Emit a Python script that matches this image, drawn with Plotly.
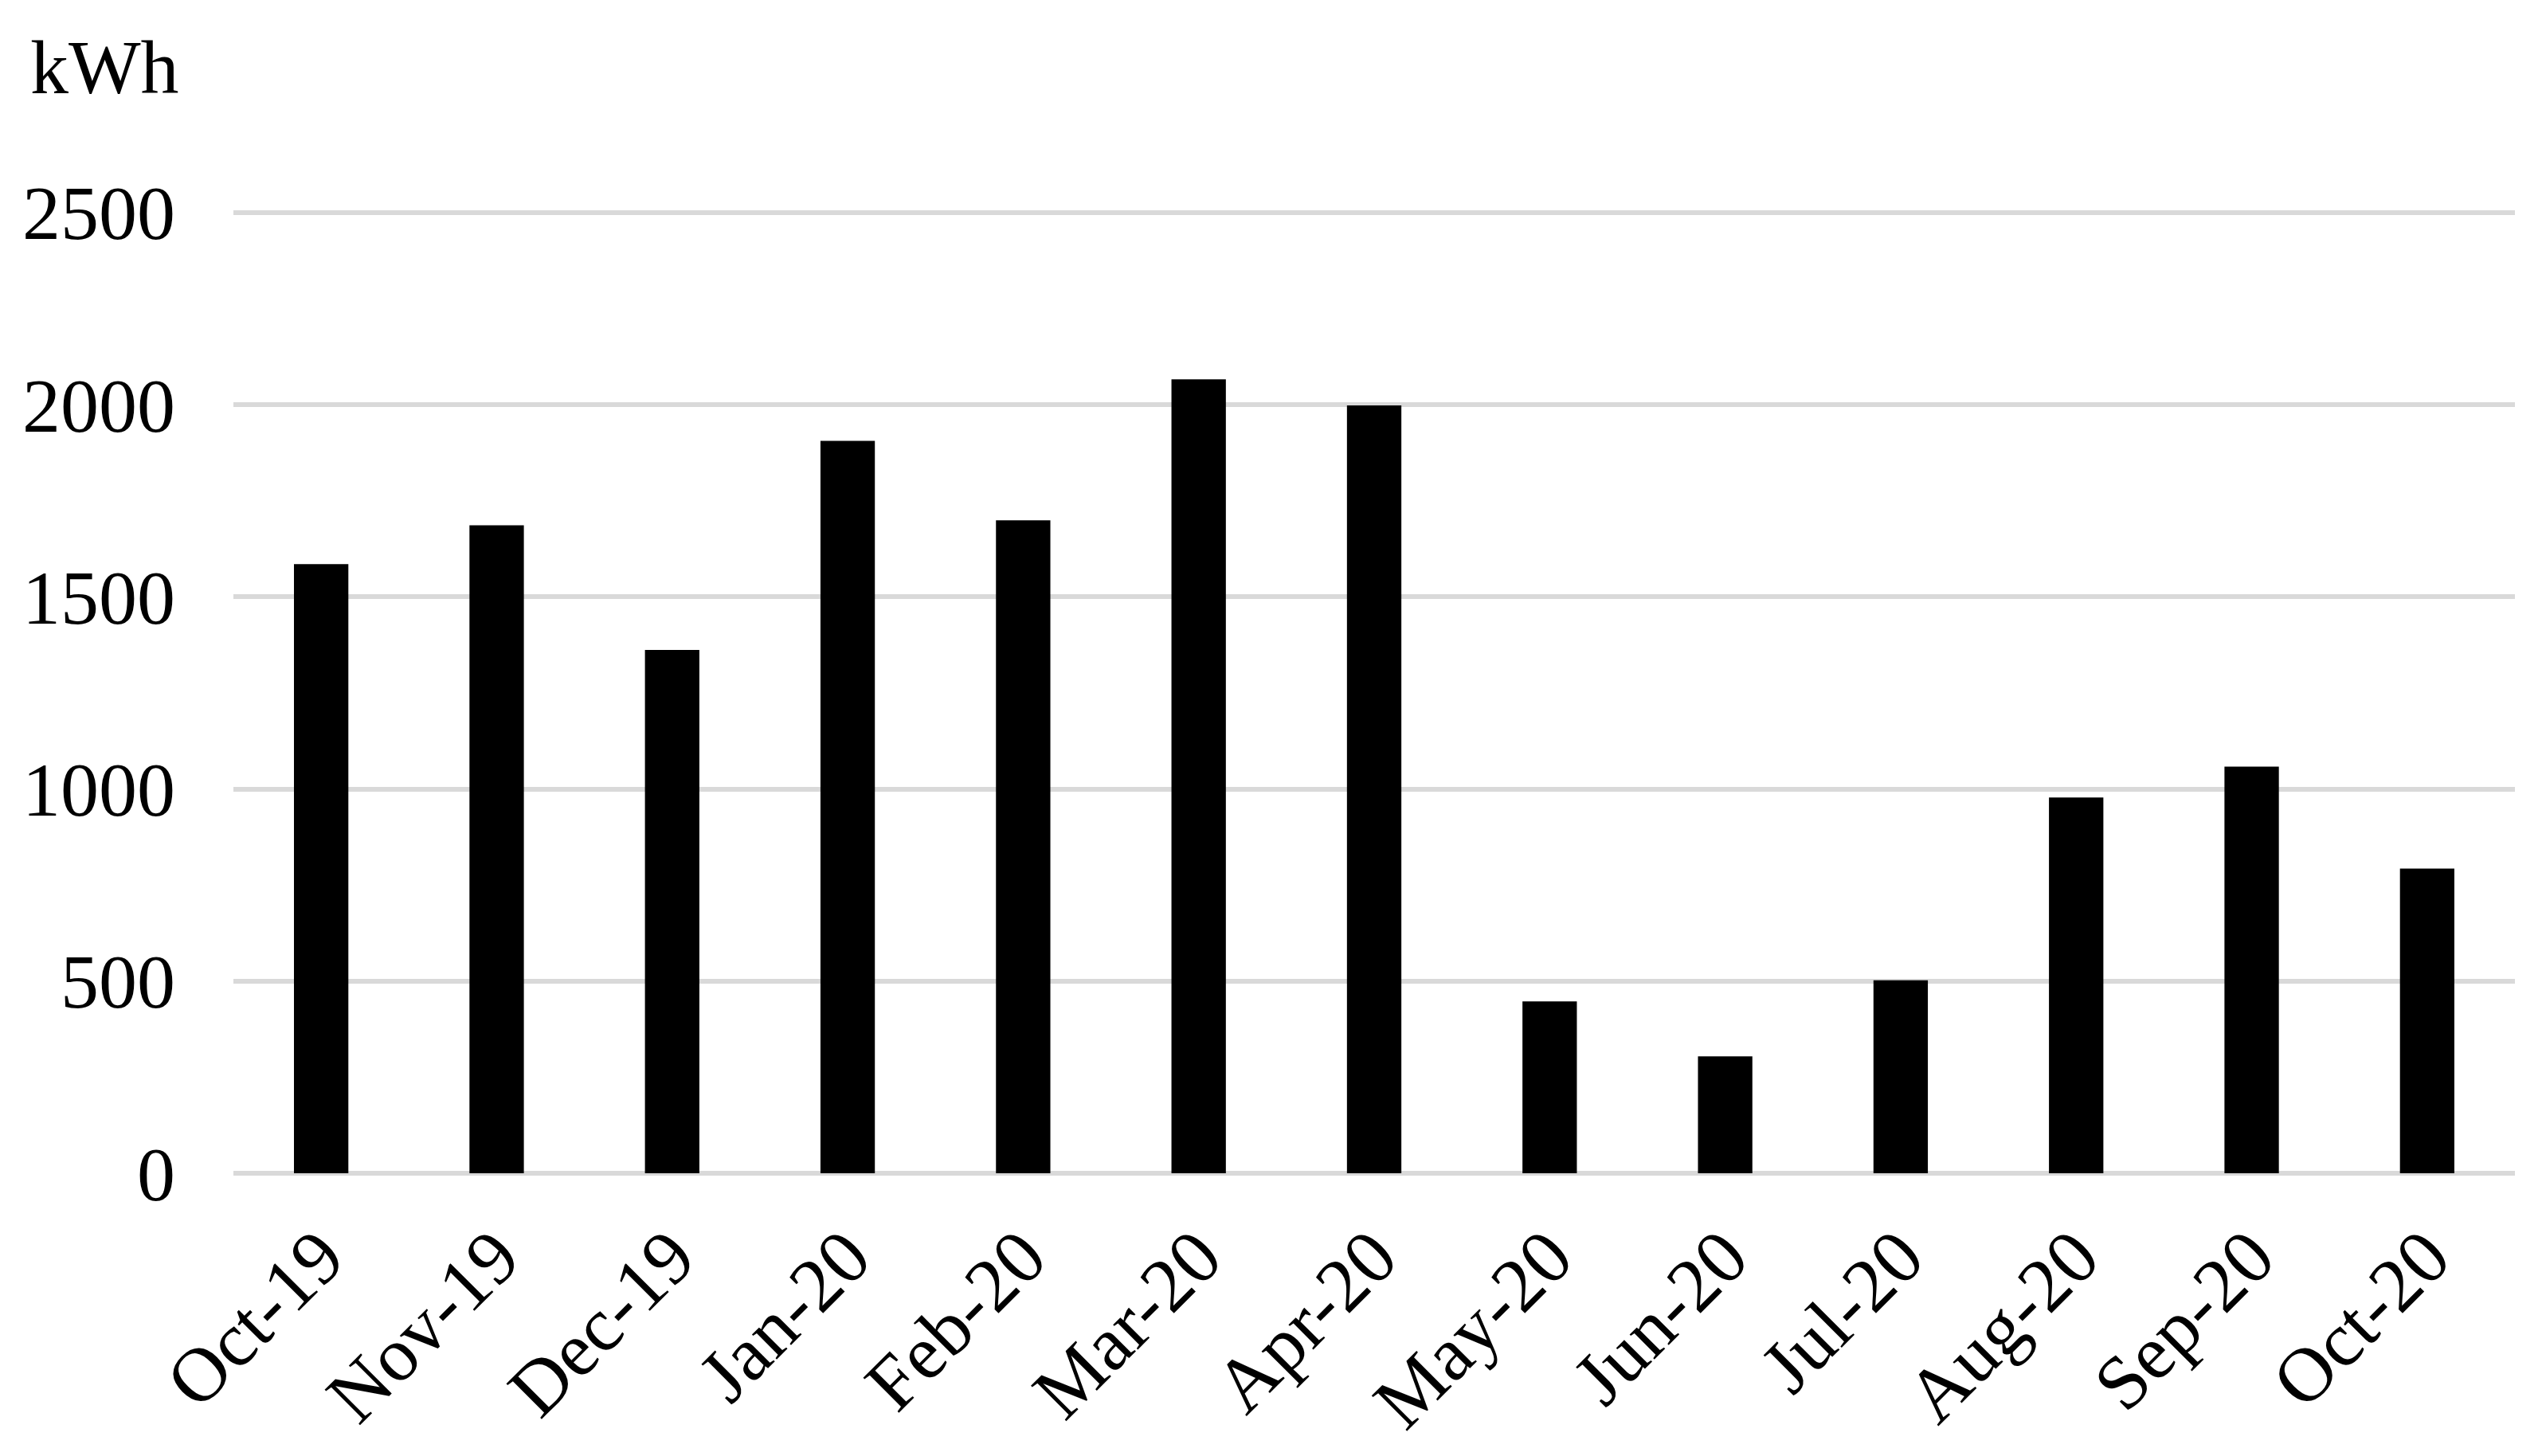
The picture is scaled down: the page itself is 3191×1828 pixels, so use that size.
import plotly.graph_objects as go

months = ["Oct-19", "Nov-19", "Dec-19", "Jan-20", "Feb-20", "Mar-20", "Apr-20",
          "May-20", "Jun-20", "Jul-20", "Aug-20", "Sep-20", "Oct-20"]
energy_kwh = [1585, 1686, 1362, 1906, 1699, 2066, 1998, 447, 304, 502, 978, 1058, 793]
y_ticks = [0, 500, 1000, 1500, 2000, 2500]

font_family = "Liberation Serif, Times New Roman, serif"
fsize = 96

fig = go.Figure(go.Bar(
    x=months,
    y=energy_kwh,
    marker=dict(color="black", line=dict(width=0)),
    width=0.31,
))

# plot area in pixels
left, right, top, bottom = 285, 42, 254, 363
plot_w = 3191 - left - right
plot_h = 1828 - top - bottom

fig.update_layout(
    width=3191,
    height=1828,
    margin=dict(l=left, r=right, t=top, b=bottom),
    plot_bgcolor="white",
    paper_bgcolor="white",
    showlegend=False,
    font=dict(family=font_family, size=fsize, color="black"),
    annotations=[dict(
        text="kWh", xref="paper", yref="paper",
        x=(28 - left) / plot_w, y=1 + (top - 76) / plot_h,
        xanchor="left", yanchor="middle", showarrow=False,
        font=dict(family=font_family, size=fsize, color="black"),
    )],
)

fig.update_xaxes(
    tickangle=-45,
    showgrid=False,
    showline=False,
    zeroline=False,
    ticks="",
    ticklabelstandoff=28,
    tickfont=dict(family=font_family, size=fsize, color="black"),
)

fig.update_yaxes(
    range=[0, 2510],
    tickvals=y_ticks,
    showgrid=True,
    gridcolor="#D9D9D9",
    gridwidth=6,
    zeroline=True,
    zerolinecolor="#D9D9D9",
    zerolinewidth=6,
    showline=False,
    ticks="",
    ticklabelstandoff=72,
    tickfont=dict(family=font_family, size=fsize, color="black"),
)

fig.write_html("out.html")
